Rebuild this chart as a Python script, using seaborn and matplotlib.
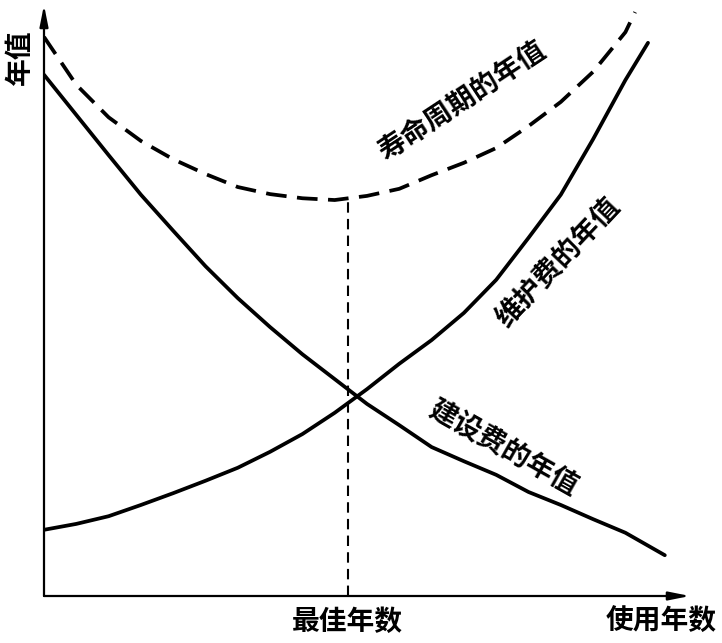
import numpy as np
import pandas as pd
import matplotlib
matplotlib.use("Agg")
import matplotlib.pyplot as plt
import seaborn as sns

# Values (x: years, y: annual value, arbitrary units)
years = [0, 0.5, 1, 1.5, 2, 2.5, 3, 3.5, 4, 4.5, 5, 5.5, 6, 6.5, 7, 7.5, 8, 8.5, 9]
build_cost = [88.2, 81.4, 74.6, 67.9, 61.8, 55.8, 50.4, 45.5, 40.9, 36.7,
              32.5, 28.9, 25.2, 22.8, 20.5, 17.6, 15.4, 13.0, 10.7]
maint_cost = [11.2, 12.2, 13.5, 15.4, 17.4, 19.5, 21.7, 24.4, 27.4, 31.0,
              35.0, 39.3, 43.3, 47.9, 53.5, 60.6, 67.9, 77.3, 87.3]
life_cost = [94.6, 86.5, 81.0, 77.0, 73.9, 71.4, 69.2, 68.0, 67.3, 67.0,
             67.7, 68.9, 71.2, 73.3, 75.8, 79.5, 83.6, 88.7, 95.4]

# curve end points (they stop at different years)
build_end = (9.61, 6.9)
maint_end = (9.35, 93.6)
life_end = (9.15, 98.8)

best_year = 4.7
x_max = 10
y_max = 100

sns.set_theme(style="white")
plt.rcParams['font.family'] = ['Noto Sans CJK SC', 'DejaVu Sans']

def make_df(vals, end):
    pts = [(x, v) for x, v in zip(years, vals) if x < end[0]] + [end]
    return pd.DataFrame(pts, columns=["year", "value"])

df_build = make_df(build_cost, build_end)
df_maint = make_df(maint_cost, maint_end)
df_life = make_df(life_cost, life_end)

fig = plt.figure(figsize=(7.22, 6.43), dpi=100)
ax = fig.add_axes([44 / 722, 47 / 643, 646 / 722, 591 / 643])

sns.lineplot(data=df_build, x="year", y="value", ax=ax, color="black", lw=2.7)
sns.lineplot(data=df_maint, x="year", y="value", ax=ax, color="black", lw=2.7)
sns.lineplot(data=df_life, x="year", y="value", ax=ax, color="black", lw=2.7,
             linestyle=(0, (5.5, 2.8)))

# optimum line
life_min = min(life_cost)
ax.vlines(best_year, 0, life_min, colors="black", lw=1.5, linestyles=(0, (5, 3)))

ax.set_xlim(0, x_max)
ax.set_ylim(0, y_max)
for s in ax.spines.values():
    s.set_visible(False)
ax.set_xticks([])
ax.set_yticks([])
ax.set_xlabel("")
ax.set_ylabel("")

# axes with arrows
arrow = dict(arrowstyle="-|>,head_length=0.9,head_width=0.18", lw=1.6, color="black",
             shrinkA=0, shrinkB=0, mutation_scale=14)
ax.annotate("", xy=(x_max, 0), xytext=(0, 0), arrowprops=arrow, annotation_clip=False)
ax.annotate("", xy=(0, y_max), xytext=(0, 0), arrowprops=arrow, annotation_clip=False)

fs = 20
tk = dict(fontsize=fs, fontweight="bold", color="black", clip_on=False)
ax.text(-0.37, 91.2, "年值", rotation=90, ha="center", va="center", **tk)
ax.text(best_year, -4.4, "最佳年数", ha="center", va="center", **tk)
ax.text(9.55, -4.4, "使用年数", ha="center", va="center", **tk)

ax.text(6.49, 83.6, "寿命周期的年值", rotation=33.4, rotation_mode="anchor",
        ha="center", va="center", **tk)
ax.text(7.96, 56.5, "维护费的年值", rotation=46.6, rotation_mode="anchor",
        ha="center", va="center", **tk)
ax.text(7.11, 25.0, "建设费的年值", rotation=-29.4, rotation_mode="anchor",
        ha="center", va="center", **tk)

fig.savefig("out.png", dpi=100, facecolor="white")
